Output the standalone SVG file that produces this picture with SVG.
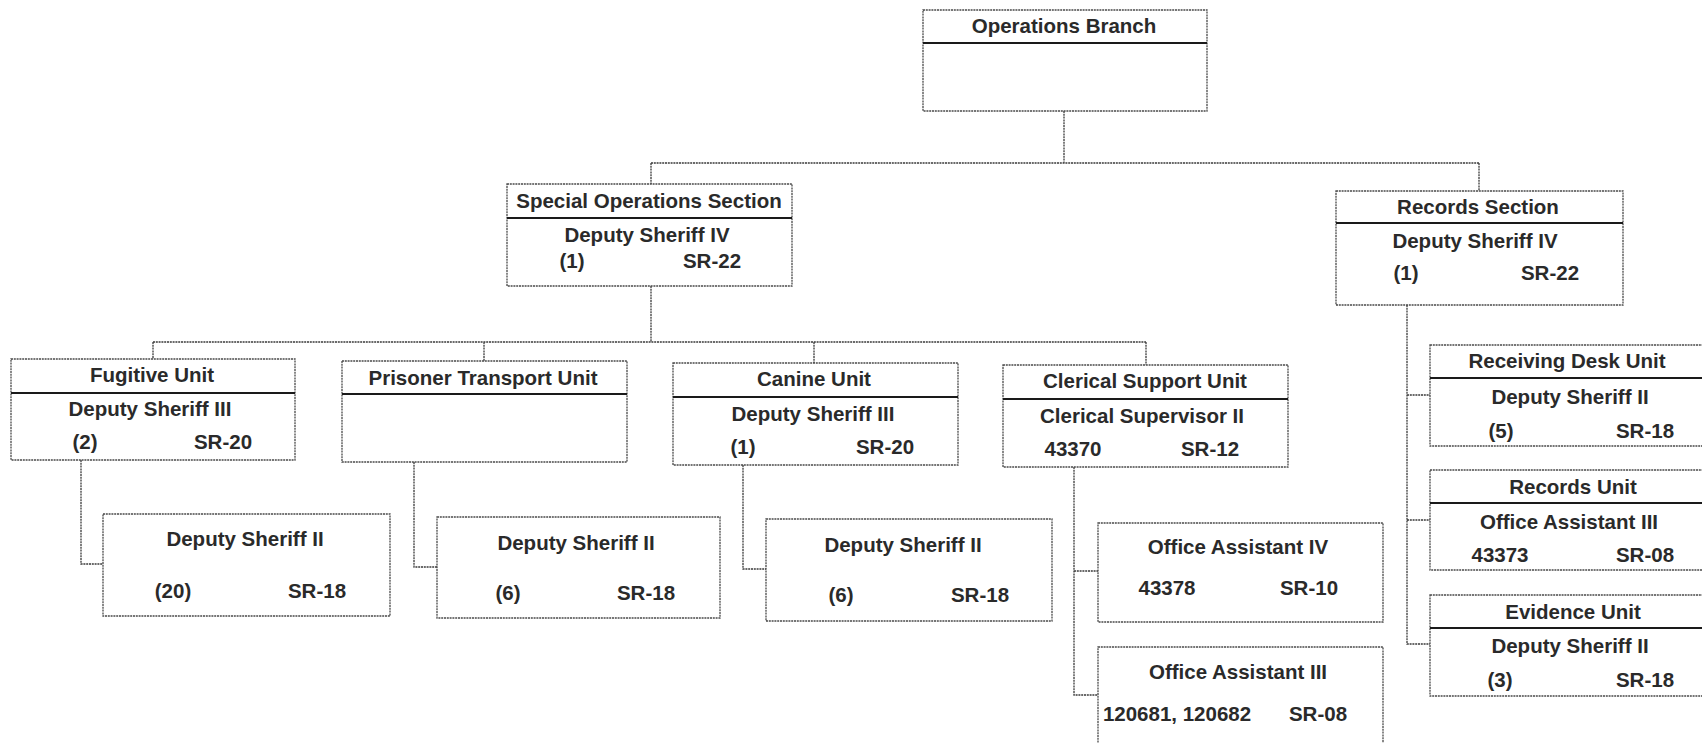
<svg xmlns="http://www.w3.org/2000/svg" width="1702" height="743" viewBox="0 0 1702 743">
  <style>
    .box { fill: #ffffff; stroke: #4a4a4a; stroke-width: 1.3; stroke-dasharray: 2 0.8; }
    .div { stroke: #1a1a1a; stroke-width: 2.2; }
    .wire { fill: none; stroke: #3a3a3a; stroke-width: 1.3; stroke-dasharray: 2 0.8; }
    text { font-family: "Liberation Sans", Arial, sans-serif; font-weight: bold; font-size: 20.5px; fill: #2a2a2a; text-anchor: middle; }
  </style>
  <rect width="1702" height="743" fill="#ffffff"/>

  <!-- connectors -->
  <g id="connectors">
    <path class="wire" d="M1064,111 V163 M651,163 H1479 M651,163 V184 M1479,163 V191"/>
    <path class="wire" d="M651,286 V342 M153,342 H1146 M153,342 V359 M484,342 V361 M814,342 V363 M1146,342 V365"/>
    <path class="wire" d="M81,460 V564 H103"/>
    <path class="wire" d="M414,462 V567 H437"/>
    <path class="wire" d="M743,465 V569 H766"/>
    <path class="wire" d="M1074,467 V695 H1098 M1074,571 H1098"/>
    <path class="wire" d="M1407,305 V644 H1430 M1407,395 H1430 M1407,520 H1430"/>
  </g>

  <!-- top level -->
  <g id="operations-branch">
    <rect class="box" x="923" y="10" width="284" height="101"/>
    <line class="div" x1="923" y1="43" x2="1207" y2="43"/>
    <text x="1064" y="33">Operations Branch</text>
  </g>

  <!-- sections -->
  <g id="special-operations-section">
    <rect class="box" x="507" y="184" width="285" height="102"/>
    <line class="div" x1="507" y1="218" x2="792" y2="218"/>
    <text x="649" y="208">Special Operations Section</text>
    <text x="647" y="242">Deputy Sheriff IV</text>
    <text x="572" y="268">(1)</text>
    <text x="712" y="268">SR-22</text>
  </g>

  <g id="records-section">
    <rect class="box" x="1336" y="191" width="287" height="114"/>
    <line class="div" x1="1336" y1="223" x2="1623" y2="223"/>
    <text x="1478" y="214">Records Section</text>
    <text x="1475" y="248">Deputy Sheriff IV</text>
    <text x="1406" y="280">(1)</text>
    <text x="1550" y="280">SR-22</text>
  </g>

  <!-- units -->
  <g id="fugitive-unit">
    <rect class="box" x="11" y="359" width="284" height="101"/>
    <line class="div" x1="11" y1="393" x2="295" y2="393"/>
    <text x="152" y="382">Fugitive Unit</text>
    <text x="150" y="416">Deputy Sheriff III</text>
    <text x="85" y="449">(2)</text>
    <text x="223" y="449">SR-20</text>
  </g>

  <g id="prisoner-transport-unit">
    <rect class="box" x="342" y="361" width="285" height="101"/>
    <line class="div" x1="342" y1="394" x2="627" y2="394"/>
    <text x="483" y="385">Prisoner Transport Unit</text>
  </g>

  <g id="canine-unit">
    <rect class="box" x="673" y="363" width="285" height="102"/>
    <line class="div" x1="673" y1="397" x2="958" y2="397"/>
    <text x="814" y="386">Canine Unit</text>
    <text x="813" y="421">Deputy Sheriff III</text>
    <text x="743" y="454">(1)</text>
    <text x="885" y="454">SR-20</text>
  </g>

  <g id="clerical-support-unit">
    <rect class="box" x="1003" y="365" width="285" height="102"/>
    <line class="div" x1="1003" y1="399" x2="1288" y2="399"/>
    <text x="1145" y="388">Clerical Support Unit</text>
    <text x="1142" y="423">Clerical Supervisor II</text>
    <text x="1073" y="456">43370</text>
    <text x="1210" y="456">SR-12</text>
  </g>

  <!-- positions under units -->
  <g id="fugitive-deputies">
    <rect class="box" x="103" y="514" width="287" height="102"/>
    <text x="245" y="546">Deputy Sheriff II</text>
    <text x="173" y="598">(20)</text>
    <text x="317" y="598">SR-18</text>
  </g>

  <g id="prisoner-transport-deputies">
    <rect class="box" x="437" y="517" width="283" height="101"/>
    <text x="576" y="550">Deputy Sheriff II</text>
    <text x="508" y="600">(6)</text>
    <text x="646" y="600">SR-18</text>
  </g>

  <g id="canine-deputies">
    <rect class="box" x="766" y="519" width="286" height="102"/>
    <text x="903" y="552">Deputy Sheriff II</text>
    <text x="841" y="602">(6)</text>
    <text x="980" y="602">SR-18</text>
  </g>

  <g id="office-assistant-iv">
    <rect class="box" x="1098" y="523" width="285" height="99"/>
    <text x="1238" y="554">Office Assistant IV</text>
    <text x="1167" y="595">43378</text>
    <text x="1309" y="595">SR-10</text>
  </g>

  <g id="office-assistant-iii">
    <rect class="box" x="1098" y="647" width="285" height="110"/>
    <text x="1238" y="679">Office Assistant III</text>
    <text x="1177" y="721">120681, 120682</text>
    <text x="1318" y="721">SR-08</text>
  </g>

  <!-- units under records -->
  <g id="receiving-desk-unit">
    <rect class="box" x="1430" y="345" width="282" height="101"/>
    <line class="div" x1="1430" y1="378" x2="1712" y2="378"/>
    <text x="1567" y="368">Receiving Desk Unit</text>
    <text x="1570" y="404">Deputy Sheriff II</text>
    <text x="1501" y="438">(5)</text>
    <text x="1645" y="438">SR-18</text>
  </g>

  <g id="records-unit">
    <rect class="box" x="1430" y="470" width="282" height="100"/>
    <line class="div" x1="1430" y1="503" x2="1712" y2="503"/>
    <text x="1573" y="494">Records Unit</text>
    <text x="1569" y="529">Office Assistant III</text>
    <text x="1500" y="562">43373</text>
    <text x="1645" y="562">SR-08</text>
  </g>

  <g id="evidence-unit">
    <rect class="box" x="1430" y="595" width="282" height="101"/>
    <line class="div" x1="1430" y1="628" x2="1712" y2="628"/>
    <text x="1573" y="619">Evidence Unit</text>
    <text x="1570" y="653">Deputy Sheriff II</text>
    <text x="1500" y="687">(3)</text>
    <text x="1645" y="687">SR-18</text>
  </g>
</svg>
